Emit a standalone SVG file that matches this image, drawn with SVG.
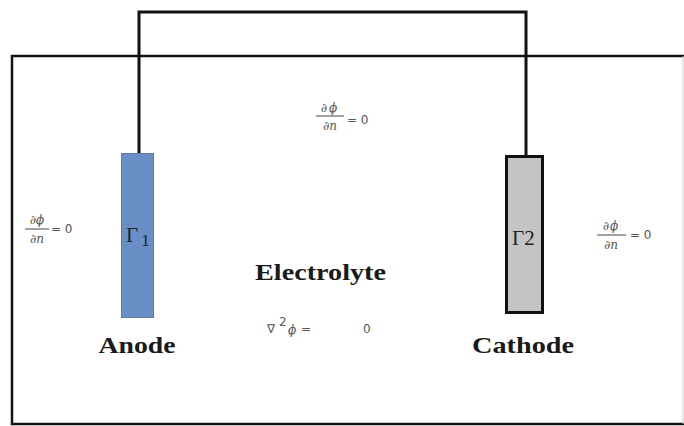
<svg xmlns="http://www.w3.org/2000/svg" width="684" height="426" viewBox="0 0 684 426">
<style>
.lbl{font-family:"Liberation Serif","Times New Roman",serif;font-weight:bold;font-size:23px;fill:#1a1a1a}
.eq{font-family:"DejaVu Serif","Liberation Serif",serif;font-size:12px;fill:#555;font-style:italic}
.num{font-family:"DejaVu Sans","Liberation Sans",sans-serif;font-size:12px;fill:#555}
.gam{font-family:"Liberation Serif","Times New Roman",serif;font-size:21px;fill:#222}
.wire{fill:none;stroke:#111;stroke-width:3}
.fr{stroke:#666;stroke-width:1.2}
</style>
<rect width="684" height="426" fill="#fff"/>
<g id="container">
<path d="M684,56 H12 V424 H684" fill="none" stroke="#111" stroke-width="2.5"/>
<line x1="683" y1="56" x2="683" y2="424" stroke="#ccc" stroke-width="1"/>
</g>
<g id="connectors">
<path class="wire" d="M139,154 V12 H526 V156"/>
</g>
<g id="anode">
<rect x="121.5" y="153.5" width="32" height="164" fill="#6a8fc6" stroke="#5a7aa8" stroke-width="1"/>
<text class="gam" x="126" y="242">Γ<tspan font-size="17" dx="3" dy="4">1</tspan></text>
<text class="lbl" x="137" y="353" text-anchor="middle" textLength="77" lengthAdjust="spacingAndGlyphs">Anode</text>
</g>
<g id="cathode">
<rect x="506.5" y="156.5" width="36" height="156" fill="#c4c4c4" stroke="#111" stroke-width="3"/>
<text class="gam" x="512" y="245">Γ2</text>
<text class="lbl" x="523" y="353" text-anchor="middle" textLength="102" lengthAdjust="spacingAndGlyphs">Cathode</text>
</g>
<g id="electrolyte">
<text class="lbl" x="255" y="280" textLength="131" lengthAdjust="spacingAndGlyphs">Electrolyte</text>
<text class="num" x="267" y="333" font-size="13">∇</text>
<text class="num" x="279" y="326" font-size="7">2</text>
<text class="eq" x="288" y="334" font-size="13">ϕ</text>
<text class="num" x="301" y="333">=</text>
<text class="num" x="363" y="333">0</text>
</g>
<g id="bc-top">
<text class="eq" x="330" y="112" text-anchor="middle" font-size="13" letter-spacing="2">∂ϕ</text>
<line class="fr" x1="316" y1="116" x2="344" y2="116"/>
<text class="eq" x="330" y="130" text-anchor="middle" font-size="13">∂n</text>
<text class="num" x="347" y="124" font-size="13">=  0</text>
</g>
<g id="bc-left">
<text class="eq" x="37" y="224" text-anchor="middle" font-size="13">∂ϕ</text>
<line class="fr" x1="25" y1="229" x2="49" y2="229"/>
<text class="eq" x="37" y="243" text-anchor="middle" font-size="13">∂n</text>
<text class="num" x="51" y="233" font-size="13">= 0</text>
</g>
<g id="bc-right">
<text class="eq" x="611" y="230" text-anchor="middle" font-size="13" letter-spacing="1">∂ϕ</text>
<line class="fr" x1="597" y1="235" x2="626" y2="235"/>
<text class="eq" x="611" y="249" text-anchor="middle" font-size="13">∂n</text>
<text class="num" x="630" y="239" font-size="13">=  0</text>
</g>
</svg>
